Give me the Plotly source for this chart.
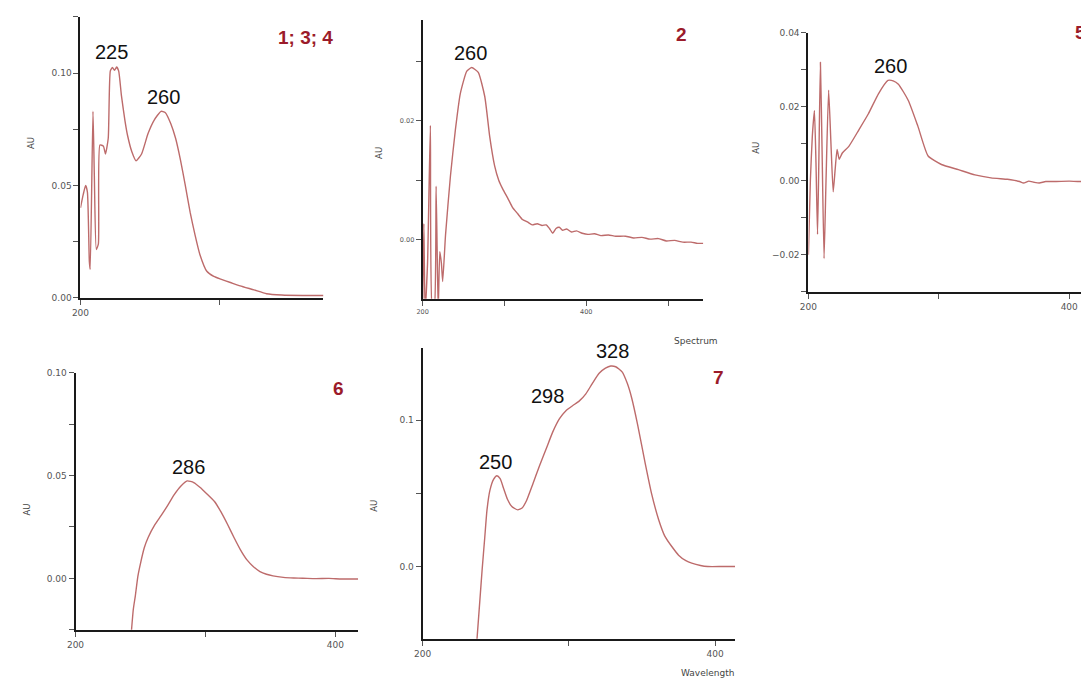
import plotly.graph_objects as go

# ---------------- data ----------------
wl1 = [200, 202, 203.7, 205, 206.4, 207, 209, 210, 211.4, 212.9, 214, 216.5, 218, 220, 221.5,
       223, 224.5, 226, 227.5, 229.5, 232, 234, 237, 240, 244, 248.6, 253, 258, 261, 265,
       268.5, 272, 275.5, 279, 282.5, 286, 291, 296, 301, 308, 315, 325, 334, 345, 360, 375]
au1 = [0.040, 0.046, 0.050, 0.047, 0.016, 0.0127, 0.083, 0.054, 0.0215, 0.024, 0.068, 0.0675, 0.064, 0.071, 0.101,
       0.1025, 0.1012, 0.1027, 0.101, 0.090, 0.079, 0.072, 0.065, 0.061, 0.064, 0.073, 0.079, 0.083, 0.0825, 0.0776,
       0.071, 0.0614, 0.050, 0.038, 0.028, 0.0193, 0.0118, 0.0095, 0.0083, 0.0068, 0.0053, 0.0035, 0.0018, 0.0012, 0.001, 0.001]

wl2 = [200, 201.5, 203, 206, 209.5, 212, 214, 216.5, 219, 221, 223, 224.5, 228, 234, 240, 246, 254,
       260, 268, 276, 282, 288, 293, 298, 304, 310, 316, 322, 328, 334, 340, 346, 351, 355, 359, 363,
       367, 371, 376, 382, 388, 395, 402, 410, 418, 427, 436, 448, 458, 468, 478, 488, 498, 508, 518,
       528, 536, 543]
au2 = [-0.012, 0.0027, -0.012, -0.004, 0.0192, -0.012, -0.012, 0.009, -0.012, -0.002, -0.004, -0.007, 0.0008, 0.0107, 0.0184, 0.0245, 0.0283,
       0.0289, 0.0281, 0.024, 0.0173, 0.0124, 0.0100, 0.0085, 0.0070, 0.0054, 0.0044, 0.0034, 0.0030, 0.0025, 0.0027, 0.0024, 0.0025, 0.0019, 0.0011, 0.0019,
       0.0021, 0.0016, 0.0018, 0.0013, 0.0015, 0.0011, 0.0009, 0.0010, 0.0007, 0.0008, 0.0006, 0.0006, 0.0003, 0.0004, 0.0001, 0.0002, -0.0002, -0.0001, -0.0004,
       -0.0004, -0.0006, -0.0006]

wl3 = [200, 201.5, 203, 204.6, 205.8, 207, 208, 209.2, 210.4, 212, 213.5, 215.5, 217.3, 219, 220.5, 222,
       223.6, 226, 231, 238.6, 246, 253.7, 261, 265, 269, 276.6, 284, 291.8, 302, 315, 327.7, 340, 352.6,
       358, 362, 365, 369, 373, 377, 382, 390, 400, 408, 416]
au3 = [-0.020, 0.000, 0.012, 0.019, 0.005, -0.0145, 0.005, 0.032, 0.010, -0.021, 0.000, 0.0245, 0.010, -0.003, 0.003, 0.0085,
       0.0058, 0.0075, 0.0093, 0.0137, 0.0181, 0.0235, 0.0271, 0.0270, 0.0261, 0.0217, 0.0147, 0.0067, 0.0044, 0.0030, 0.0016, 0.0008, 0.0004,
       0.0001, -0.0002, -0.0006, -0.0001, -0.0004, -0.0006, -0.0002, -0.0002, -0.0001, -0.0002, 0.0]

wl4 = [243, 244.5, 246, 248, 250, 253, 256, 261, 266, 271, 276, 281, 286, 291, 296, 301, 307, 312,
       317, 322, 327, 332, 337, 342, 347, 352, 360, 368, 375, 385, 395, 405, 417.6]
au4 = [-0.026, -0.015, -0.0087, 0.001, 0.0072, 0.015, 0.020, 0.026, 0.0306, 0.0355, 0.0407, 0.0448, 0.0474, 0.0466, 0.0442, 0.0412, 0.0374, 0.0323,
       0.0263, 0.0199, 0.0139, 0.0090, 0.0057, 0.0033, 0.0020, 0.0012, 0.0005, 0.0002, 0.0001, -0.0001, 0.0, -0.0003, -0.0003]

wl5 = [237, 239, 240.7, 242.5, 244, 246, 248.5, 250.8, 253, 255.5, 258, 261, 265, 268, 271, 275.3, 280,
       284.7, 289, 293.6, 298, 302.7, 307, 311.6, 316, 320.7, 325, 328.6, 332, 336.4, 340, 343, 347, 352.3,
       356.5, 361.4, 365.5, 370.5, 375, 380, 384, 390, 395, 405, 414]
au5 = [-0.052, -0.025, -0.002, 0.020, 0.0385, 0.052, 0.0595, 0.062, 0.060, 0.053, 0.046, 0.041, 0.0387, 0.040, 0.045, 0.0563, 0.069,
       0.081, 0.092, 0.101, 0.1065, 0.110, 0.113, 0.118, 0.125, 0.132, 0.1355, 0.137, 0.1365, 0.133, 0.125, 0.115, 0.097, 0.070,
       0.050, 0.032, 0.021, 0.0135, 0.0078, 0.004, 0.0023, 0.0007, 0.0, 0.0, 0.0]

panel_names = ["1; 3; 4", "2", "5", "6", "7"]
peaks = [  # (panel, x, y, label)
    (1, 222.5, 0.1035, "225"), (1, 260, 0.0835, "260"),
    (2, 258, 0.0291, "260"),
    (3, 263, 0.0275, "260"),
    (4, 287, 0.0478, "286"),
    (5, 250, 0.0625, "250"), (5, 285.5, 0.1075, "298"), (5, 329.5, 0.1385, "328"),
]

# ---------------- layout helpers ----------------
W, H = 1089, 683
OFF = 8  # page body margin in the browser
def px(x):
    return (x - OFF) / W
def py(y):
    return 1 - (y - OFF) / H

CURVE = "#bd6b6b"
LABEL_RED = "#9b1b2a"
TICKF = "DejaVu Sans, Verdana, sans-serif"
TXTF = "Liberation Sans, Arial, sans-serif"

fig = go.Figure()

series = [(wl1, au1), (wl2, au2), (wl3, au3), (wl4, au4), (wl5, au5)]
for i, (xs, ys) in enumerate(series, start=1):
    fig.add_trace(go.Scatter(
        x=xs, y=ys, mode="lines",
        line=dict(color=CURVE, width=1.4, shape="spline", smoothing=0.5),
        xaxis="x" if i == 1 else f"x{i}", yaxis="y" if i == 1 else f"y{i}",
        hoverinfo="skip", showlegend=False))

# (xdomain px, ydomain px, xrange, yrange, ydtick, yminor, yfmt, fontsize)
specs = [
    ((72, 317), (12, 297), (200, 375), (0.0, 0.125), 0.05, 0.025, ".2f", 9),
    ((417, 700), (15, 298), (200, 543), (-0.0099, 0.0369), 0.02, 0.01, ".2f", 6.5),
    ((806, 1097), (28, 291), (200, 421.3), (-0.030, 0.040), 0.02, 0.01, ".2f", 9),
    ((67, 352), (373, 634), (200, 417.6), (-0.025, 0.10), 0.05, 0.025, ".2f", 9),
    ((417, 732), (348, 643), (200, 413.6), (-0.0493, 0.1493), 0.1, 0.05, ".1f", 9),
]

lay = {}
for i, (xd, yd, xr, yr, ydt, ymin, yfmt, fs) in enumerate(specs, start=1):
    xn = "xaxis" if i == 1 else f"xaxis{i}"
    yn = "yaxis" if i == 1 else f"yaxis{i}"
    ya = "y" if i == 1 else f"y{i}"
    xa = "x" if i == 1 else f"x{i}"
    f = dict(family=TICKF, size=fs, color="#555555")
    lay[xn] = dict(domain=[max(0, px(xd[0])), min(1, px(xd[1]))], range=list(xr), anchor=ya,
                   showline=True, linecolor="#1a1a1a", linewidth=2, mirror=False,
                   ticks="outside", ticklen=5, tickwidth=1, tickcolor="#555555",
                   tick0=200, dtick=200, tickfont=f, showgrid=False, zeroline=False,
                   minor=dict(ticks="outside", ticklen=5, tickcolor="#555555", dtick=100, tick0=200, showgrid=False),
                   fixedrange=True)
    lay[yn] = dict(domain=[py(yd[1]), py(yd[0])], range=list(yr), anchor=xa,
                   showline=True, linecolor="#1a1a1a", linewidth=2,
                   ticks="outside", ticklen=5, tickwidth=1, tickcolor="#555555",
                   tick0=0, dtick=ydt, tickformat=yfmt, tickfont=f, showgrid=False, zeroline=False,
                   minor=dict(ticks="outside", ticklen=5, tickcolor="#555555", dtick=ymin, tick0=0, showgrid=False),
                   fixedrange=True)

fig.update_layout(width=W, height=H, margin=dict(l=0, r=0, t=0, b=0),
                  paper_bgcolor="white", plot_bgcolor="white", showlegend=False, **lay)

ann = []
# peak labels, anchored to data
for p, x, y, t in peaks:
    xa = "x" if p == 1 else f"x{p}"
    ya = "y" if p == 1 else f"y{p}"
    ann.append(dict(x=x, y=y, xref=xa, yref=ya, text=t, showarrow=False,
                    xanchor="center", yanchor="bottom", yshift=0,
                    font=dict(family=TXTF, size=20, color="#111111")))

# panel numbers
name_pos = [(299, 33, "center"), (678, 30, "center"), (1088, 28, "right"), (332, 389, "center"), (715, 378, "center")]
for (x, y, anc), t in zip(name_pos, panel_names):
    ann.append(dict(x=px(x), y=py(y), xref="paper", yref="paper", text=f"<b>{t}</b>", showarrow=False,
                    xanchor=anc, yanchor="middle",
                    font=dict(family=TXTF, size=19, color=LABEL_RED)))

# AU axis titles
for x, y in [(22, 140), (373, 150), (753, 145), (18, 512), (368, 508)]:
    ann.append(dict(x=px(x), y=py(y), xref="paper", yref="paper", text="AU", showarrow=False,
                    textangle=-90, xanchor="center", yanchor="middle",
                    font=dict(family=TICKF, size=8.5, color="#444444")))

ann.append(dict(x=px(693), y=py(341), xref="paper", yref="paper", text="Spectrum", showarrow=False,
                xanchor="center", yanchor="middle", font=dict(family=TICKF, size=9, color="#444444")))
ann.append(dict(x=px(704), y=py(678), xref="paper", yref="paper", text="Wavelength", showarrow=False,
                xanchor="center", yanchor="middle", font=dict(family=TICKF, size=9, color="#444444")))

fig.update_layout(annotations=ann)
fig.write_html("out.html")
